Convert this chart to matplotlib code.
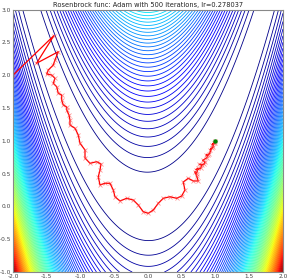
import numpy as np
import matplotlib
matplotlib.use("Agg")
import matplotlib.pyplot as plt

# Optimizer path (data coordinates)
path_x = [-2.0, -1.393, -1.652, -1.329, -1.378, -1.403, -1.477, -1.501, -1.427, -1.378,
          -1.403, -1.353, -1.329, -1.279, -1.279, -1.255, -1.204, -1.204, -1.170, -1.156,
          -1.156, -1.081, -1.033, -1.007, -0.933, -0.933, -0.859, -0.760, -0.696, -0.711,
          -0.736, -0.711, -0.637, -0.563, -0.514, -0.489, -0.415, -0.316, -0.218, -0.144,
          -0.070, 0.004, 0.079, 0.153, 0.227, 0.326, 0.425, 0.499, 0.548, 0.523,
          0.597, 0.671, 0.745, 0.721, 0.696, 0.72, 0.745, 0.71, 0.78, 0.80, 0.76, 0.83,
          0.844, 0.81, 0.87, 0.893, 0.86, 0.91, 0.944, 0.92, 0.96, 0.978, 0.95, 0.99, 1.0]
path_y = [2.0, 2.604, 2.180, 2.357, 2.230, 2.154, 2.078, 2.017, 2.002, 1.952,
          1.875, 1.824, 1.723, 1.697, 1.621, 1.545, 1.514, 1.469, 1.392, 1.316,
          1.240, 1.190, 1.088, 0.961, 0.859, 0.737, 0.656, 0.681, 0.646, 0.554,
          0.452, 0.326, 0.352, 0.352, 0.250, 0.147, 0.082, 0.123, 0.097, 0.021,
          -0.081, -0.106, -0.055, 0.047, 0.123, 0.147, 0.123, 0.158, 0.250, 0.371,
          0.428, 0.387, 0.387, 0.463, 0.528, 0.50, 0.580, 0.56, 0.58, 0.630, 0.64, 0.64,
          0.681, 0.70, 0.74, 0.783, 0.78, 0.80, 0.885, 0.86, 0.90, 0.970, 0.94, 0.97, 1.0]
end_point = (1.0, 1.0)

x_range = (-2.0, 2.0)
y_range = (-1.0, 3.0)
x_ticks = [-2.0, -1.5, -1.0, -0.5, 0.0, 0.5, 1.0, 1.5, 2.0]
y_ticks = [-1.0, -0.5, 0.0, 0.5, 1.0, 1.5, 2.0, 2.5, 3.0]
title = "Rosenbrock func: Adam with 500 iterations, lr=0.278037"

fig = plt.figure(figsize=(2.89, 2.80), dpi=100)
ax = fig.add_axes([0.045, 0.0286, 0.934, 0.9374])

gx = np.linspace(x_range[0], x_range[1], 500)
gy = np.linspace(y_range[0], y_range[1], 500)
X, Y = np.meshgrid(gx, gy)
Z = (1 - X) ** 2 + 100 * (Y - X ** 2) ** 2
levels = np.linspace(Z.min(), Z.max(), 90)
ax.contour(X, Y, Z, levels=levels, cmap="jet", linewidths=0.6)

ax.plot(path_x, path_y, color="red", lw=0.9, marker="x", ms=3.5, mew=0.6,
        mec=(1, 0.25, 0.25, 0.55))
ax.plot([end_point[0]], [end_point[1]], marker="o", color="green", ms=3.2, mew=0)

ax.set_xlim(*x_range)
ax.set_ylim(*y_range)
ax.set_xticks(x_ticks)
ax.set_yticks(y_ticks)
ax.set_xticklabels([f"{t:.1f}" for t in x_ticks])
ax.set_yticklabels([f"{t:.1f}" for t in y_ticks])
ax.tick_params(labelsize=4.2, length=0, pad=1.5, colors="#444444")
for s in ax.spines.values():
    s.set_color("#888888")
    s.set_linewidth(0.8)
ax.set_title(title, fontsize=4.8, pad=1.5, color="#222222")

fig.savefig("out.png", dpi=100)
